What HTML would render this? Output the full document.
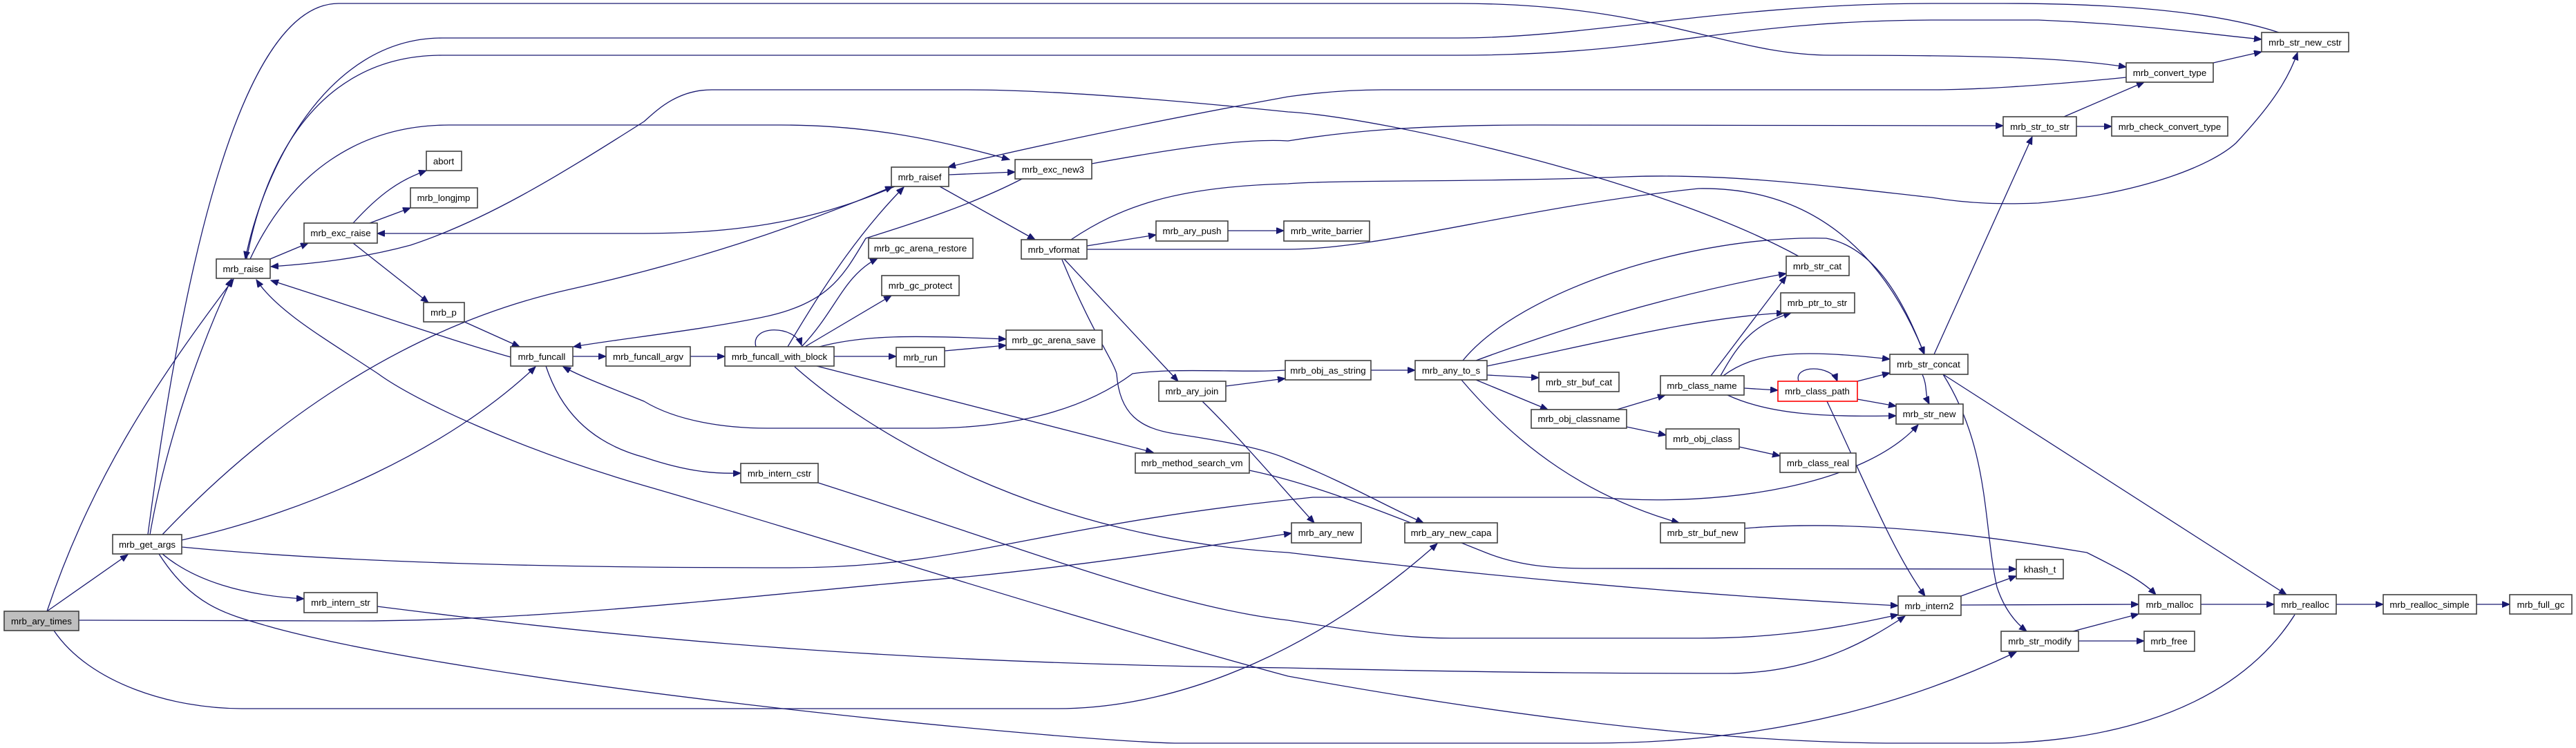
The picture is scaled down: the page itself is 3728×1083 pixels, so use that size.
<!DOCTYPE html>
<html><head><meta charset="utf-8"><style>
html,body{margin:0;padding:0;background:#fff;}
svg{display:block;}
text{font-family:"Liberation Sans",Arial,sans-serif;font-size:13.3px;fill:#000;}
.n{fill:#fff;stroke:#404040;stroke-width:1.6;}
.e{fill:none;stroke:#191970;stroke-width:1.3;marker-end:url(#a);}
</style></head><body>
<svg width="3728" height="1083" viewBox="0 0 3728 1083" xmlns="http://www.w3.org/2000/svg">
<defs><marker id="a" markerUnits="userSpaceOnUse" markerWidth="12" markerHeight="10" refX="11" refY="4.5" orient="auto"><path d="M0,0 L11,4.5 L0,9 z" fill="#191970" stroke="#191970"/></marker></defs>
<g>
<path class="e" d="M68,885 L185,803"/>
<path class="e" d="M68,885 C130,700 220,560 338,404"/>
<path class="e" d="M114,898 L500,899 C800,900 1100,860 1400,835 C1600,815 1750,790 1869,772"/>
<path class="e" d="M78,913 C130,990 250,1026 350,1026 L1530,1026 C1720,1026 1920,930 2080,787"/>
<path class="e" d="M217,774 C240,640 290,500 335,404"/>
<path class="e" d="M214,774 C250,500 330,5 490,5 L2110,5 C2400,5 2500,80 2650,80 C2900,80 3000,85 3077,97"/>
<path class="e" d="M235,774 C400,600 600,470 820,420 C1000,380 1150,330 1292,270"/>
<path class="e" d="M263,782 C450,740 650,650 775,531"/>
<path class="e" d="M263,792 C500,815 800,822 1140,822 C1400,822 1500,760 1900,720 L2310,720 C2500,736 2700,700 2776,615"/>
<path class="e" d="M235,802 C280,840 350,862 440,867"/>
<path class="e" d="M230,802 C280,880 330,890 400,910 C700,990 1500,1070 1700,1076 L2300,1076 C2600,1076 2800,1000 2918,944"/>
<path class="e" d="M3321,890 C3220,1050 3000,1076 2880,1076 L2750,1076 C2500,1076 2200,1040 1864,979 C1500,880 1200,780 932,703 C750,650 600,580 547,541 C470,490 400,450 371,405"/>
<path class="e" d="M546,878 C800,910 1200,960 1864,967 C2200,975 2400,975 2500,975 C2620,975 2700,930 2757,892"/>
<path class="e" d="M391,375 L446,352"/>
<path class="e" d="M511,323 C550,280 580,260 617,247"/>
<path class="e" d="M535,323 L594,301"/>
<path class="e" d="M511,352 L620,438"/>
<path class="e" d="M672,466 L752,502"/>
<path class="e" d="M739,517 C660,495 560,460 392,406"/>
<path class="e" d="M829,516 L877,516"/>
<path class="e" d="M999,516 L1049,516"/>
<path class="e" d="M790,530 C810,590 850,640 932,662 C1000,685 1040,686 1072,685"/>
<path class="e" d="M1860,536 C1800,540 1700,532 1639,541 C1560,600 1450,620 1342,620 L1110,620 C1050,620 980,610 932,581 C880,560 840,545 815,531"/>
<path class="e" d="M1479,259 C1400,300 1300,330 1253,345 C1220,400 1200,440 1100,460 C1000,480 900,490 830,502"/>
<path class="e" d="M1295,270 C1200,310 1100,338 932,338 L546,338"/>
<path class="e" d="M1373,253 L1469,249"/>
<path class="e" d="M362,375 C420,250 520,181 650,181 L1130,181 C1250,181 1350,200 1461,231"/>
<path class="e" d="M357,375 C380,250 450,80 640,80 L2110,80 C2400,80 2500,30 2796,29 L2950,29 C3100,35 3200,50 3273,57"/>
<path class="e" d="M3298,47 C3200,15 3050,5 2900,5 L2796,5 C2500,5 2300,55 2110,55 L640,55 C470,55 380,250 355,375"/>
<path class="e" d="M2603,371 C2400,260 2000,170 1864,162 C1650,140 1500,130 1400,130 L1030,130 C980,130 950,160 932,176 C800,260 700,320 594,355 C520,375 450,382 392,386"/>
<path class="e" d="M3077,112 C2950,125 2850,130 2796,130 L2000,130 C1950,130 1900,135 1864,140 C1700,170 1500,210 1372,242"/>
<path class="e" d="M1580,237 C1700,215 1800,200 1864,204 C1950,190 2050,181 2221,181 L2899,182"/>
<path class="e" d="M1140,502 C1200,400 1250,330 1308,271"/>
<path class="e" d="M1094,502 C1085,470 1150,470 1160,500"/>
<path class="e" d="M1160,502 C1210,450 1220,400 1270,374"/>
<path class="e" d="M1165,502 L1290,428"/>
<path class="e" d="M1186,502 C1250,485 1320,485 1456,491"/>
<path class="e" d="M1207,516 L1297,516"/>
<path class="e" d="M1367,508 L1456,500"/>
<path class="e" d="M1182,530 L1669,655"/>
<path class="e" d="M1150,531 C1250,620 1500,780 1864,800 C2200,840 2500,864 2747,877"/>
<path class="e" d="M1184,699 C1500,800 1700,880 1864,898 C2000,920 2050,924 2100,924 L2460,924 C2600,924 2700,900 2747,890"/>
<path class="e" d="M1808,681 C1900,700 2000,740 2150,800 C2200,820 2250,823 2300,823 L2918,824"/>
<path class="e" d="M1360,270 L1498,347"/>
<path class="e" d="M1573,356 L1673,340"/>
<path class="e" d="M1777,334 L1858,334"/>
<path class="e" d="M1573,361 L1864,361 C2000,361 2200,300 2458,273 C2650,270 2740,400 2785,513"/>
<path class="e" d="M1550,347 C1620,300 1700,270 1864,266 C1950,260 2150,264 2350,256 C2500,250 2650,270 2796,286 C2850,295 2900,296 2950,294 C3100,280 3200,240 3236,207 C3280,160 3310,120 3325,76"/>
<path class="e" d="M1540,375 L1705,552"/>
<path class="e" d="M1537,376 C1580,480 1610,520 1616,541 C1620,600 1650,620 1700,628 C1780,640 1830,650 1864,665 C1950,700 2000,730 2060,757"/>
<path class="e" d="M1774,559 L1860,548"/>
<path class="e" d="M1740,581 C1800,640 1850,700 1902,757"/>
<path class="e" d="M1984,536 L2048,536"/>
<path class="e" d="M2152,543 L2227,547"/>
<path class="e" d="M2136,550 L2240,593"/>
<path class="e" d="M2115,550 C2200,650 2300,720 2430,757"/>
<path class="e" d="M2136,522 C2250,480 2400,430 2585,396"/>
<path class="e" d="M2152,530 C2300,500 2450,460 2582,453"/>
<path class="e" d="M2117,522 C2200,420 2450,340 2643,345 C2720,360 2760,450 2785,513"/>
<path class="e" d="M2340,593 L2410,572"/>
<path class="e" d="M2354,618 L2411,630"/>
<path class="e" d="M2517,647 L2576,660"/>
<path class="e" d="M2524,562 L2573,565"/>
<path class="e" d="M2500,572 C2560,600 2640,604 2744,602"/>
<path class="e" d="M2476,544 L2585,400"/>
<path class="e" d="M2490,544 C2520,490 2540,470 2592,453"/>
<path class="e" d="M2494,544 C2540,510 2600,505 2735,520"/>
<path class="e" d="M2603,552 C2595,528 2650,528 2659,552"/>
<path class="e" d="M2688,552 L2735,540"/>
<path class="e" d="M2688,578 L2744,588"/>
<path class="e" d="M2644,581 C2700,700 2740,800 2786,863"/>
<path class="e" d="M2799,513 L2941,198"/>
<path class="e" d="M2782,542 C2790,560 2785,570 2792,585"/>
<path class="e" d="M2812,542 L3309,861"/>
<path class="e" d="M2812,542 C2880,650 2870,760 2890,850 C2900,880 2915,900 2933,914"/>
<path class="e" d="M2525,765 C2700,750 2900,780 3020,800 C3060,820 3100,840 3120,861"/>
<path class="e" d="M2838,863 L2918,834"/>
<path class="e" d="M2838,876 L3095,875"/>
<path class="e" d="M3000,914 L3095,889"/>
<path class="e" d="M3008,928 L3103,928"/>
<path class="e" d="M3185,875 L3291,875"/>
<path class="e" d="M3381,875 L3449,875"/>
<path class="e" d="M3584,875 L3632,875"/>
<path class="e" d="M2987,169 L3103,119"/>
<path class="e" d="M3005,183 L3056,183"/>
<path class="e" d="M3203,91 L3273,75"/>
</g>
<g>
<rect x="6" y="885" width="108" height="28" fill="#bfbfbf" stroke="#404040" stroke-width="1.6"/><text x="60" y="904" text-anchor="middle">mrb_ary_times</text>
<rect class="n" x="163" y="774" width="100" height="28"/><text x="213" y="793" text-anchor="middle">mrb_get_args</text>
<rect class="n" x="440" y="858" width="106" height="29"/><text x="493" y="877" text-anchor="middle">mrb_intern_str</text>
<rect class="n" x="313" y="375" width="78" height="28"/><text x="352" y="394" text-anchor="middle">mrb_raise</text>
<rect class="n" x="440" y="323" width="106" height="29"/><text x="493" y="342" text-anchor="middle">mrb_exc_raise</text>
<rect class="n" x="617" y="219" width="51" height="28"/><text x="642" y="238" text-anchor="middle">abort</text>
<rect class="n" x="594" y="272" width="97" height="29"/><text x="642" y="291" text-anchor="middle">mrb_longjmp</text>
<rect class="n" x="613" y="438" width="59" height="28"/><text x="642" y="457" text-anchor="middle">mrb_p</text>
<rect class="n" x="739" y="502" width="90" height="28"/><text x="784" y="521" text-anchor="middle">mrb_funcall</text>
<rect class="n" x="877" y="502" width="122" height="28"/><text x="938" y="521" text-anchor="middle">mrb_funcall_argv</text>
<rect class="n" x="1049" y="502" width="158" height="28"/><text x="1128" y="521" text-anchor="middle">mrb_funcall_with_block</text>
<rect class="n" x="1297" y="503" width="70" height="28"/><text x="1332" y="522" text-anchor="middle">mrb_run</text>
<rect class="n" x="1456" y="478" width="139" height="28"/><text x="1525" y="497" text-anchor="middle">mrb_gc_arena_save</text>
<rect class="n" x="1276" y="399" width="112" height="29"/><text x="1332" y="418" text-anchor="middle">mrb_gc_protect</text>
<rect class="n" x="1257" y="345" width="151" height="29"/><text x="1332" y="364" text-anchor="middle">mrb_gc_arena_restore</text>
<rect class="n" x="1290" y="242" width="83" height="28"/><text x="1331" y="261" text-anchor="middle">mrb_raisef</text>
<rect class="n" x="1469" y="231" width="111" height="28"/><text x="1524" y="250" text-anchor="middle">mrb_exc_new3</text>
<rect class="n" x="1478" y="347" width="95" height="28"/><text x="1525" y="366" text-anchor="middle">mrb_vformat</text>
<rect class="n" x="1673" y="320" width="104" height="29"/><text x="1725" y="339" text-anchor="middle">mrb_ary_push</text>
<rect class="n" x="1858" y="320" width="124" height="29"/><text x="1920" y="339" text-anchor="middle">mrb_write_barrier</text>
<rect class="n" x="1677" y="552" width="97" height="29"/><text x="1725" y="571" text-anchor="middle">mrb_ary_join</text>
<rect class="n" x="1643" y="656" width="165" height="29"/><text x="1725" y="675" text-anchor="middle">mrb_method_search_vm</text>
<rect class="n" x="1072" y="671" width="112" height="28"/><text x="1128" y="690" text-anchor="middle">mrb_intern_cstr</text>
<rect class="n" x="1860" y="522" width="124" height="28"/><text x="1922" y="541" text-anchor="middle">mrb_obj_as_string</text>
<rect class="n" x="2048" y="522" width="104" height="28"/><text x="2100" y="541" text-anchor="middle">mrb_any_to_s</text>
<rect class="n" x="2227" y="539" width="116" height="28"/><text x="2285" y="558" text-anchor="middle">mrb_str_buf_cat</text>
<rect class="n" x="2585" y="371" width="91" height="28"/><text x="2630" y="390" text-anchor="middle">mrb_str_cat</text>
<rect class="n" x="2577" y="424" width="107" height="29"/><text x="2630" y="443" text-anchor="middle">mrb_ptr_to_str</text>
<rect class="n" x="2403" y="544" width="121" height="28"/><text x="2463" y="563" text-anchor="middle">mrb_class_name</text>
<rect x="2573" y="552" width="115" height="29" fill="#fff" stroke="#ff0000" stroke-width="1.6"/><text x="2630" y="571" text-anchor="middle">mrb_class_path</text>
<rect class="n" x="2216" y="593" width="138" height="27"/><text x="2285" y="611" text-anchor="middle">mrb_obj_classname</text>
<rect class="n" x="2411" y="621" width="106" height="29"/><text x="2464" y="640" text-anchor="middle">mrb_obj_class</text>
<rect class="n" x="2576" y="656" width="110" height="28"/><text x="2631" y="675" text-anchor="middle">mrb_class_real</text>
<rect class="n" x="2735" y="513" width="113" height="29"/><text x="2791" y="532" text-anchor="middle">mrb_str_concat</text>
<rect class="n" x="2744" y="585" width="97" height="29"/><text x="2792" y="604" text-anchor="middle">mrb_str_new</text>
<rect class="n" x="1869" y="757" width="101" height="29"/><text x="1919" y="776" text-anchor="middle">mrb_ary_new</text>
<rect class="n" x="2033" y="757" width="134" height="29"/><text x="2100" y="776" text-anchor="middle">mrb_ary_new_capa</text>
<rect class="n" x="2403" y="757" width="122" height="29"/><text x="2464" y="776" text-anchor="middle">mrb_str_buf_new</text>
<rect class="n" x="2747" y="863" width="91" height="28"/><text x="2792" y="882" text-anchor="middle">mrb_intern2</text>
<rect class="n" x="2918" y="810" width="68" height="28"/><text x="2952" y="829" text-anchor="middle">khash_t</text>
<rect class="n" x="3095" y="861" width="90" height="28"/><text x="3140" y="880" text-anchor="middle">mrb_malloc</text>
<rect class="n" x="3291" y="861" width="90" height="28"/><text x="3336" y="880" text-anchor="middle">mrb_realloc</text>
<rect class="n" x="3449" y="861" width="135" height="28"/><text x="3516" y="880" text-anchor="middle">mrb_realloc_simple</text>
<rect class="n" x="3632" y="861" width="90" height="28"/><text x="3677" y="880" text-anchor="middle">mrb_full_gc</text>
<rect class="n" x="2896" y="914" width="112" height="29"/><text x="2952" y="933" text-anchor="middle">mrb_str_modify</text>
<rect class="n" x="3103" y="914" width="73" height="29"/><text x="3139" y="933" text-anchor="middle">mrb_free</text>
<rect class="n" x="3273" y="47" width="126" height="28"/><text x="3336" y="66" text-anchor="middle">mrb_str_new_cstr</text>
<rect class="n" x="3077" y="91" width="126" height="28"/><text x="3140" y="110" text-anchor="middle">mrb_convert_type</text>
<rect class="n" x="2899" y="169" width="106" height="28"/><text x="2952" y="188" text-anchor="middle">mrb_str_to_str</text>
<rect class="n" x="3056" y="169" width="168" height="28"/><text x="3140" y="188" text-anchor="middle">mrb_check_convert_type</text>
</g>
</svg>
</body></html>
